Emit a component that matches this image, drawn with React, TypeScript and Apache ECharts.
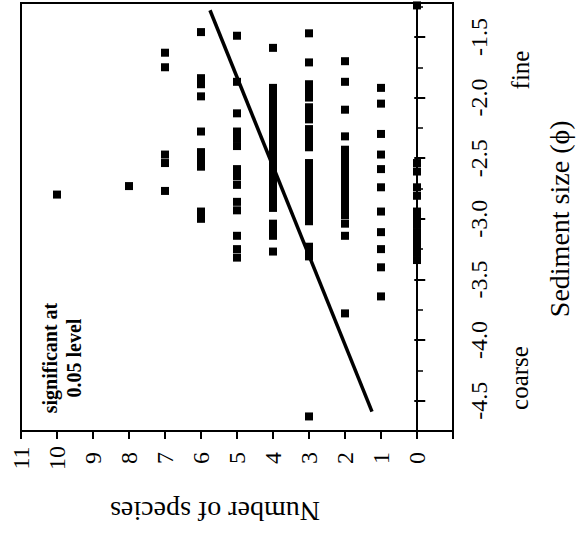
import React, { useEffect, useRef } from "react";
import * as echarts from "echarts";

// Sediment size (phi) of each sample, grouped by number of species found
const speciesCounts = [10, 8, 7, 6, 5, 4, 3, 2, 1, 0];
const sizeAt10 = [-2.8];
const sizeAt8 = [-2.73];
const sizeAt7 = [-1.63, -1.75, -2.47, -2.54, -2.77];
const sizeAt6 = [-1.46, -1.84, -1.89, -1.99, -2.28, -2.45, -2.51, -2.57, -2.94, -3.0];
const sizeAt5 = [-1.49, -1.87, -2.13, -2.28, -2.34, -2.4, -2.59, -2.65, -2.72, -2.86, -2.93, -3.14, -3.25, -3.32];
const sizeAt4 = [-1.59, -1.92, -1.97, -2.02, -2.07, -2.12, -2.17, -2.21, -2.26, -2.31, -2.36, -2.41, -2.46, -2.51, -2.56, -2.61, -2.66, -2.71, -2.76, -2.81, -2.86, -2.91, -3.04, -3.09, -3.14, -3.27];
const sizeAt3 = [-1.47, -1.71, -1.89, -1.95, -2.0, -2.08, -2.14, -2.18, -2.26, -2.31, -2.36, -2.41, -2.54, -2.58, -2.63, -2.68, -2.73, -2.78, -2.83, -2.88, -2.93, -2.98, -3.02, -3.23, -3.26, -3.31, -4.63];
const sizeAt2 = [-1.7, -1.87, -2.1, -2.32, -2.43, -2.48, -2.53, -2.58, -2.63, -2.68, -2.72, -2.77, -2.82, -2.87, -2.92, -2.97, -3.04, -3.14, -3.78];
const sizeAt1 = [-1.92, -2.05, -2.3, -2.47, -2.59, -2.74, -2.94, -3.11, -3.25, -3.4, -3.64];
const sizeAt0 = [-1.24, -2.54, -2.61, -2.74, -2.81, -2.94, -2.99, -3.05, -3.11, -3.17, -3.23, -3.28, -3.34];
const sizeGroups = [sizeAt10, sizeAt8, sizeAt7, sizeAt6, sizeAt5, sizeAt4, sizeAt3, sizeAt2, sizeAt1, sizeAt0];

// Regression line end points [species, sediment size]
const lineStart = [5.75, -1.28];
const lineEnd = [1.25, -4.59];

// Axis ranges / ticks
const speciesMin = -1;
const speciesMax = 11;
const sizeMinorMin = -4.75;
const sizeMinorMax = -1.22;
const sizeMajorMin = -4.5;
const sizeMajorMax = -1.5;

const SERIF = '"Liberation Serif", "DejaVu Serif", "Times New Roman", serif';

export default function App() {
  const ref = useRef<HTMLDivElement>(null);

  useEffect(() => {
    if (!ref.current) return;
    const chart = echarts.init(ref.current, undefined, { renderer: "svg" });

    const points: number[][] = [];
    speciesCounts.forEach((n, i) => {
      sizeGroups[i].forEach((s) => points.push([n, s]));
    });

    const gLeft = 21;
    const gTop = 3;
    const gW = 432;
    const gH = 428;
    const pxPerUnit = gH / (sizeMinorMax - sizeMinorMin);
    const majorTop = gTop + (sizeMinorMax - sizeMajorMax) * pxPerUnit;
    const majorBottom = gTop + (sizeMinorMax - sizeMajorMin) * pxPerUnit;

    const option: any = {
      animation: false,
      backgroundColor: "#ffffff",
      grid: [
        {
          left: gLeft,
          top: gTop,
          width: gW,
          height: gH,
          show: true,
          borderColor: "#000",
          borderWidth: 2,
          backgroundColor: "transparent",
        },
        {
          left: gLeft,
          top: majorTop,
          width: gW,
          height: majorBottom - majorTop,
          show: false,
        },
      ],
      xAxis: [
        {
          gridIndex: 0,
          type: "value",
          min: speciesMin,
          max: speciesMax,
          interval: 1,
          inverse: true,
          position: "bottom",
          name: "Number of species",
          nameLocation: "middle",
          nameGap: 66,
          nameRotate: 180,
          nameTextStyle: { fontFamily: SERIF, fontSize: 28, color: "#000", padding: [0, 0, 0, 44] },
          splitLine: { show: false },
          axisLine: { show: true, lineStyle: { color: "#000", width: 2 } },
          axisTick: { show: true, inside: false, length: 8, lineStyle: { color: "#000", width: 2 } },
          axisLabel: {
            show: true,
            rotate: 90,
            margin: 27,
            align: "center",
            verticalAlign: "middle",
            fontFamily: SERIF,
            fontSize: 24,
            color: "#000",
            formatter: (v: number) => (v < 0 ? "" : String(v)),
          },
        },
        {
          gridIndex: 1,
          type: "value",
          min: speciesMin,
          max: speciesMax,
          inverse: true,
          show: false,
        },
      ],
      yAxis: [
        {
          gridIndex: 0,
          type: "value",
          min: sizeMinorMin,
          max: sizeMinorMax,
          interval: 0.25,
          position: "right",
          splitLine: { show: false },
          axisLine: { show: true, lineStyle: { color: "#000", width: 2 } },
          axisTick: { show: true, inside: false, length: 6, lineStyle: { color: "#000", width: 1.5 } },
          axisLabel: { show: false },
        },
        {
          gridIndex: 1,
          type: "value",
          min: sizeMajorMin,
          max: sizeMajorMax,
          interval: 0.5,
          position: "right",
          name: "Sediment size (\u03D5)",
          nameLocation: "middle",
          nameGap: 95,
          nameRotate: 90,
          nameTextStyle: { fontFamily: SERIF, fontSize: 28, color: "#000" },
          splitLine: { show: false },
          axisLine: { show: false },
          axisTick: { show: true, inside: false, length: 11, lineStyle: { color: "#000", width: 2 } },
          axisLabel: {
            show: true,
            rotate: 90,
            margin: 29,
            align: "center",
            verticalAlign: "middle",
            fontFamily: SERIF,
            fontSize: 24,
            color: "#000",
            formatter: (v: number) => v.toFixed(1),
          },
        },
      ],
      series: [
        {
          type: "scatter",
          xAxisIndex: 0,
          yAxisIndex: 0,
          symbol: "rect",
          symbolSize: 8,
          itemStyle: { color: "#000", opacity: 1 },
          data: points,
        },
        {
          type: "line",
          xAxisIndex: 0,
          yAxisIndex: 0,
          symbol: "none",
          lineStyle: { color: "#000", width: 3.5 },
          data: [lineStart, lineEnd],
        },
      ],
      graphic: [
        {
          type: "text",
          x: 520,
          y: 70,
          rotation: Math.PI / 2,
          style: {
            text: "fine",
            fontFamily: SERIF,
            fontSize: 25,
            fill: "#000",
            align: "center",
            verticalAlign: "middle",
          },
        },
        {
          type: "text",
          x: 519,
          y: 378,
          rotation: Math.PI / 2,
          style: {
            text: "coarse",
            fontFamily: SERIF,
            fontSize: 25,
            fill: "#000",
            align: "center",
            verticalAlign: "middle",
          },
        },
        {
          type: "text",
          x: 62,
          y: 358,
          rotation: Math.PI / 2,
          style: {
            text: "significant at\n0.05 level",
            fontFamily: SERIF,
            fontSize: 20,
            fontWeight: "bold",
            lineHeight: 24,
            fill: "#000",
            align: "center",
            verticalAlign: "middle",
          },
        },
      ],
    };

    chart.setOption(option);
    return () => chart.dispose();
  }, []);

  return (
    <div
      ref={ref}
      style={{ position: "fixed", left: 0, top: 0, width: 581, height: 535, background: "#fff" }}
    />
  );
}
